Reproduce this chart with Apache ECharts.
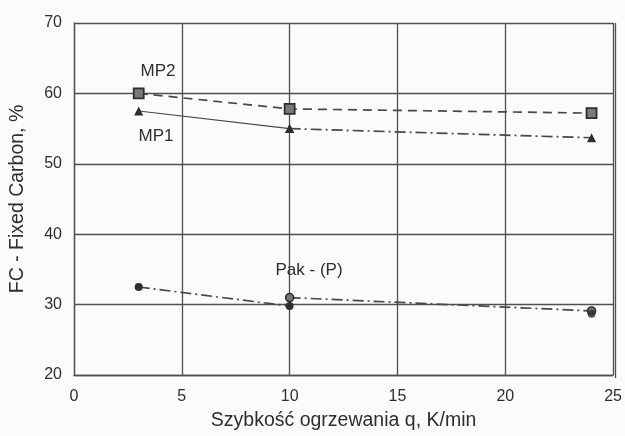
<!DOCTYPE html>
<html>
<head>
<meta charset="utf-8">
<script src="https://cdn.jsdelivr.net/npm/echarts@6/dist/echarts.min.js"></script>
<style>
  html, body { margin: 0; padding: 0; background: #fbfbfa; }
  #chart { width: 625px; height: 436px; }
</style>
</head>
<body>
<div id="chart"></div>
<script>
// Heating rate, K/min
const rates = [3, 10, 24];

// Fixed carbon, %
const mp2 = [60.0, 57.8, 57.2];
const mp1 = [57.5, 55.0, 53.7];
const pakA = [32.5, 29.8];          // 3 and 10 K/min
const pakB = [31.0, 29.1];          // 10 and 24 K/min
const pakExtra = [28.7];            // second sample at 24 K/min

const xTicks = [0, 5, 10, 15, 20, 25];
const yTicks = [20, 30, 40, 50, 60, 70];

const seriesNames = { mp2: 'MP2', mp1: 'MP1', pak: 'Pak - (P)' };

const ink = '#2e2e2e';
const lineInk = '#484848';
const font = 'Liberation Sans, Arial, sans-serif';

const pairs = (xs, ys) => ys.map((v, i) => [xs[i], v]);

const chart = echarts.init(document.getElementById('chart'), null, { renderer: 'canvas' });

const dashDot = [11, 4, 2, 4];
const frame = { type: 'line', shape: { x1: 615.5, y1: 23, x2: 615.5, y2: 378 },
                style: { stroke: '#505050', lineWidth: 1.3 } };

chart.setOption({
  backgroundColor: '#fbfbfa',
  animation: false,
  grid: { left: 73, top: 23, right: 10, bottom: 58, show: false },
  xAxis: {
    type: 'value',
    min: xTicks[0], max: xTicks[xTicks.length - 1], interval: 5,
    name: 'Szybkość ogrzewania q, K/min',
    nameLocation: 'middle', nameGap: 36,
    nameTextStyle: { fontFamily: font, fontSize: 19.5, color: ink },
    axisLine: { show: true, lineStyle: { color: '#505050', width: 1.3 } },
    axisTick: { show: false },
    axisLabel: { fontFamily: font, fontSize: 16, color: ink, margin: 14 },
    splitLine: { show: true, lineStyle: { color: '#505050', width: 1.3 } }
  },
  yAxis: {
    type: 'value',
    min: yTicks[0], max: yTicks[yTicks.length - 1], interval: 10,
    name: 'FC - Fixed Carbon, %',
    nameLocation: 'middle', nameGap: 46,
    nameTextStyle: { fontFamily: font, fontSize: 19.5, color: ink },
    axisLine: { show: true, lineStyle: { color: '#505050', width: 1.3 } },
    axisTick: { show: false },
    axisLabel: { fontFamily: font, fontSize: 16, color: ink, margin: 12 },
    splitLine: { show: true, lineStyle: { color: '#505050', width: 1.3 } }
  },
  graphic: [frame],
  series: [
    {
      name: seriesNames.mp2, type: 'line',
      data: pairs(rates, mp2),
      symbol: 'rect', symbolSize: 10,
      itemStyle: { color: '#7a7a7a', borderColor: '#2e2e2e', borderWidth: 1.8 },
      lineStyle: { color: lineInk, width: 1.7, type: [9, 6] }, z: 3
    },
    {
      name: seriesNames.mp1, type: 'line',
      data: pairs(rates.slice(0, 2), mp1.slice(0, 2)),
      symbol: 'triangle', symbolSize: 9,
      itemStyle: { color: '#2e2e2e' },
      lineStyle: { color: lineInk, width: 1.1, type: 'solid' }, z: 3
    },
    {
      name: seriesNames.mp1 + ' (2)', type: 'line',
      data: pairs(rates.slice(1), mp1.slice(1)),
      symbol: 'triangle', symbolSize: 9,
      itemStyle: { color: '#2e2e2e' },
      lineStyle: { color: lineInk, width: 1.7, type: dashDot }, z: 3
    },
    {
      name: seriesNames.pak, type: 'line',
      data: pairs(rates.slice(0, 2), pakA),
      symbol: 'circle', symbolSize: 8,
      itemStyle: { color: '#2e2e2e' },
      lineStyle: { color: lineInk, width: 1.7, type: dashDot }, z: 3
    },
    {
      name: seriesNames.pak + ' (2)', type: 'line',
      data: pairs(rates.slice(1), pakB),
      symbol: 'circle', symbolSize: 8,
      itemStyle: { color: '#777', borderColor: '#2e2e2e', borderWidth: 1.6 },
      lineStyle: { color: lineInk, width: 1.7, type: dashDot }, z: 3
    },
    {
      name: seriesNames.pak + ' (3)', type: 'scatter',
      data: pairs(rates.slice(2), pakExtra),
      symbol: 'circle', symbolSize: 8,
      itemStyle: { color: '#2e2e2e' }, z: 3
    }
  ]
});

// Series captions placed next to their curves
const caption = (text, x, y) => ({
  type: 'text',
  position: chart.convertToPixel({ gridIndex: 0 }, [x, y]),
  style: { text, font: '17px ' + font, fill: ink, textAlign: 'center', textVerticalAlign: 'middle' },
  z: 10
});
chart.setOption({
  graphic: [
    frame,
    caption(seriesNames.mp2, 3.9, 63.1),
    caption(seriesNames.mp1, 3.8, 53.9),
    caption(seriesNames.pak, 10.9, 34.8)
  ]
});
</script>
</body>
</html>
